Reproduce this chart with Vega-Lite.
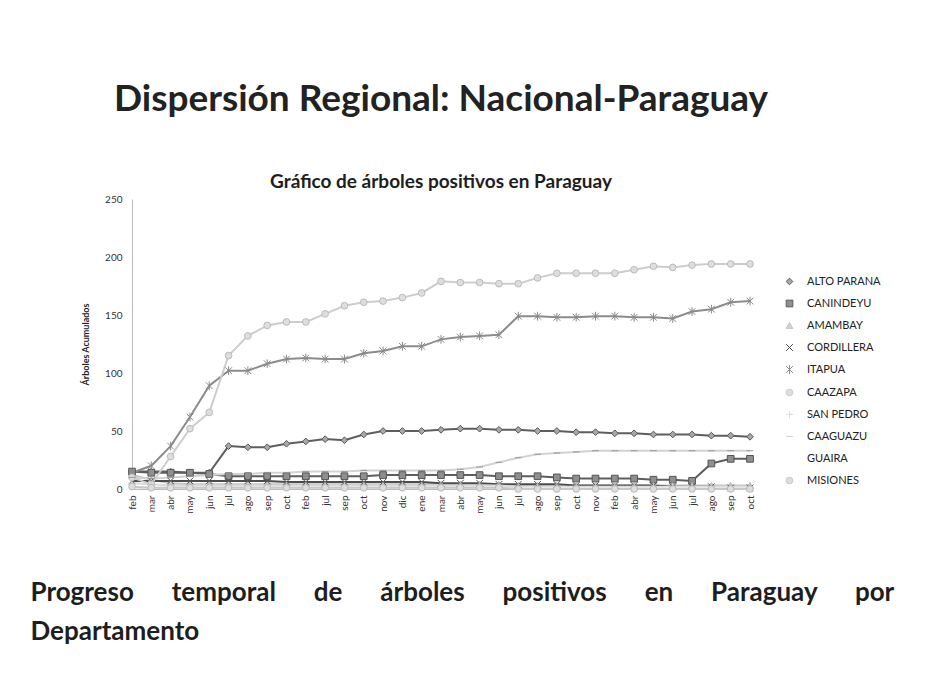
{
"$schema": "https://vega.github.io/schema/vega-lite/v6.json",
"width": 618,
"height": 290,
"padding": {"left": 30, "top": 81, "right": 10, "bottom": 5},
"background": "white",
"config": {"view": {"stroke": null}, "font": "Lato"},
"title": {
  "text": "Dispersión Regional: Nacional-Paraguay",
  "subtitle": "Gráfico de árboles positivos en Paraguay",
  "anchor": "middle", "frame": "group",
  "font": "Lato", "fontSize": 37, "fontWeight": "bold", "color": "#222222",
  "subtitleFont": "Lato", "subtitleFontSize": 19, "subtitleFontWeight": "bold", "subtitleColor": "#1e1e1e",
  "subtitlePadding": 54, "offset": 1
},
"data": {"values": [
{"d":"ALTO PARANA","t":"00-feb","v":15},{"d":"ALTO PARANA","t":"01-mar","v":15},{"d":"ALTO PARANA","t":"02-abr","v":15},{"d":"ALTO PARANA","t":"03-may","v":14},{"d":"ALTO PARANA","t":"04-jun","v":14},{"d":"ALTO PARANA","t":"05-jul","v":37},{"d":"ALTO PARANA","t":"06-ago","v":36},{"d":"ALTO PARANA","t":"07-sep","v":36},{"d":"ALTO PARANA","t":"08-oct","v":39},{"d":"ALTO PARANA","t":"09-feb","v":41},{"d":"ALTO PARANA","t":"10-jul","v":43},{"d":"ALTO PARANA","t":"11-sep","v":42},{"d":"ALTO PARANA","t":"12-oct","v":47},{"d":"ALTO PARANA","t":"13-nov","v":50},{"d":"ALTO PARANA","t":"14-dic","v":50},{"d":"ALTO PARANA","t":"15-ene","v":50},{"d":"ALTO PARANA","t":"16-mar","v":51},{"d":"ALTO PARANA","t":"17-abr","v":52},{"d":"ALTO PARANA","t":"18-may","v":52},{"d":"ALTO PARANA","t":"19-jun","v":51},{"d":"ALTO PARANA","t":"20-jul","v":51},{"d":"ALTO PARANA","t":"21-ago","v":50},{"d":"ALTO PARANA","t":"22-sep","v":50},{"d":"ALTO PARANA","t":"23-oct","v":49},{"d":"ALTO PARANA","t":"24-nov","v":49},{"d":"ALTO PARANA","t":"25-feb","v":48},{"d":"ALTO PARANA","t":"26-abr","v":48},{"d":"ALTO PARANA","t":"27-may","v":47},{"d":"ALTO PARANA","t":"28-jun","v":47},{"d":"ALTO PARANA","t":"29-jul","v":47},{"d":"ALTO PARANA","t":"30-ago","v":46},{"d":"ALTO PARANA","t":"31-sep","v":46},{"d":"ALTO PARANA","t":"32-oct","v":45},
{"d":"CANINDEYU","t":"00-feb","v":15},{"d":"CANINDEYU","t":"01-mar","v":14},{"d":"CANINDEYU","t":"02-abr","v":14},{"d":"CANINDEYU","t":"03-may","v":14},{"d":"CANINDEYU","t":"04-jun","v":13},{"d":"CANINDEYU","t":"05-jul","v":11},{"d":"CANINDEYU","t":"06-ago","v":11},{"d":"CANINDEYU","t":"07-sep","v":11},{"d":"CANINDEYU","t":"08-oct","v":11},{"d":"CANINDEYU","t":"09-feb","v":11},{"d":"CANINDEYU","t":"10-jul","v":11},{"d":"CANINDEYU","t":"11-sep","v":11},{"d":"CANINDEYU","t":"12-oct","v":11},{"d":"CANINDEYU","t":"13-nov","v":12},{"d":"CANINDEYU","t":"14-dic","v":12},{"d":"CANINDEYU","t":"15-ene","v":12},{"d":"CANINDEYU","t":"16-mar","v":12},{"d":"CANINDEYU","t":"17-abr","v":12},{"d":"CANINDEYU","t":"18-may","v":12},{"d":"CANINDEYU","t":"19-jun","v":11},{"d":"CANINDEYU","t":"20-jul","v":11},{"d":"CANINDEYU","t":"21-ago","v":11},{"d":"CANINDEYU","t":"22-sep","v":10},{"d":"CANINDEYU","t":"23-oct","v":9},{"d":"CANINDEYU","t":"24-nov","v":9},{"d":"CANINDEYU","t":"25-feb","v":9},{"d":"CANINDEYU","t":"26-abr","v":9},{"d":"CANINDEYU","t":"27-may","v":8},{"d":"CANINDEYU","t":"28-jun","v":8},{"d":"CANINDEYU","t":"29-jul","v":7},{"d":"CANINDEYU","t":"30-ago","v":22},{"d":"CANINDEYU","t":"31-sep","v":26},{"d":"CANINDEYU","t":"32-oct","v":26},
{"d":"AMAMBAY","t":"00-feb","v":12},{"d":"AMAMBAY","t":"01-mar","v":8},{"d":"AMAMBAY","t":"02-abr","v":5},{"d":"AMAMBAY","t":"03-may","v":4},{"d":"AMAMBAY","t":"04-jun","v":4},{"d":"AMAMBAY","t":"05-jul","v":4},{"d":"AMAMBAY","t":"06-ago","v":4},{"d":"AMAMBAY","t":"07-sep","v":4},{"d":"AMAMBAY","t":"08-oct","v":4},{"d":"AMAMBAY","t":"09-feb","v":4},{"d":"AMAMBAY","t":"10-jul","v":4},{"d":"AMAMBAY","t":"11-sep","v":4},{"d":"AMAMBAY","t":"12-oct","v":4},{"d":"AMAMBAY","t":"13-nov","v":4},{"d":"AMAMBAY","t":"14-dic","v":4},{"d":"AMAMBAY","t":"15-ene","v":4},{"d":"AMAMBAY","t":"16-mar","v":4},{"d":"AMAMBAY","t":"17-abr","v":4},{"d":"AMAMBAY","t":"18-may","v":4},{"d":"AMAMBAY","t":"19-jun","v":4},{"d":"AMAMBAY","t":"20-jul","v":3},{"d":"AMAMBAY","t":"21-ago","v":3},{"d":"AMAMBAY","t":"22-sep","v":3},{"d":"AMAMBAY","t":"23-oct","v":3},{"d":"AMAMBAY","t":"24-nov","v":3},{"d":"AMAMBAY","t":"25-feb","v":3},{"d":"AMAMBAY","t":"26-abr","v":3},{"d":"AMAMBAY","t":"27-may","v":3},{"d":"AMAMBAY","t":"28-jun","v":3},{"d":"AMAMBAY","t":"29-jul","v":3},{"d":"AMAMBAY","t":"30-ago","v":3},{"d":"AMAMBAY","t":"31-sep","v":3},{"d":"AMAMBAY","t":"32-oct","v":3},
{"d":"CORDILLERA","t":"00-feb","v":7},{"d":"CORDILLERA","t":"01-mar","v":7},{"d":"CORDILLERA","t":"02-abr","v":7},{"d":"CORDILLERA","t":"03-may","v":7},{"d":"CORDILLERA","t":"04-jun","v":7},{"d":"CORDILLERA","t":"05-jul","v":7},{"d":"CORDILLERA","t":"06-ago","v":7},{"d":"CORDILLERA","t":"07-sep","v":7},{"d":"CORDILLERA","t":"08-oct","v":6},{"d":"CORDILLERA","t":"09-feb","v":6},{"d":"CORDILLERA","t":"10-jul","v":6},{"d":"CORDILLERA","t":"11-sep","v":6},{"d":"CORDILLERA","t":"12-oct","v":6},{"d":"CORDILLERA","t":"13-nov","v":6},{"d":"CORDILLERA","t":"14-dic","v":6},{"d":"CORDILLERA","t":"15-ene","v":6},{"d":"CORDILLERA","t":"16-mar","v":5},{"d":"CORDILLERA","t":"17-abr","v":5},{"d":"CORDILLERA","t":"18-may","v":5},{"d":"CORDILLERA","t":"19-jun","v":4},{"d":"CORDILLERA","t":"20-jul","v":4},{"d":"CORDILLERA","t":"21-ago","v":4},{"d":"CORDILLERA","t":"22-sep","v":4},{"d":"CORDILLERA","t":"23-oct","v":3},{"d":"CORDILLERA","t":"24-nov","v":3},{"d":"CORDILLERA","t":"25-feb","v":3},{"d":"CORDILLERA","t":"26-abr","v":3},{"d":"CORDILLERA","t":"27-may","v":3},{"d":"CORDILLERA","t":"28-jun","v":2},{"d":"CORDILLERA","t":"29-jul","v":2},{"d":"CORDILLERA","t":"30-ago","v":2},{"d":"CORDILLERA","t":"31-sep","v":1},{"d":"CORDILLERA","t":"32-oct","v":1},
{"d":"ITAPUA","t":"00-feb","v":14},{"d":"ITAPUA","t":"01-mar","v":20},{"d":"ITAPUA","t":"02-abr","v":37},{"d":"ITAPUA","t":"03-may","v":62},{"d":"ITAPUA","t":"04-jun","v":89},{"d":"ITAPUA","t":"05-jul","v":102},{"d":"ITAPUA","t":"06-ago","v":102},{"d":"ITAPUA","t":"07-sep","v":108},{"d":"ITAPUA","t":"08-oct","v":112},{"d":"ITAPUA","t":"09-feb","v":113},{"d":"ITAPUA","t":"10-jul","v":112},{"d":"ITAPUA","t":"11-sep","v":112},{"d":"ITAPUA","t":"12-oct","v":117},{"d":"ITAPUA","t":"13-nov","v":119},{"d":"ITAPUA","t":"14-dic","v":123},{"d":"ITAPUA","t":"15-ene","v":123},{"d":"ITAPUA","t":"16-mar","v":129},{"d":"ITAPUA","t":"17-abr","v":131},{"d":"ITAPUA","t":"18-may","v":132},{"d":"ITAPUA","t":"19-jun","v":133},{"d":"ITAPUA","t":"20-jul","v":149},{"d":"ITAPUA","t":"21-ago","v":149},{"d":"ITAPUA","t":"22-sep","v":148},{"d":"ITAPUA","t":"23-oct","v":148},{"d":"ITAPUA","t":"24-nov","v":149},{"d":"ITAPUA","t":"25-feb","v":149},{"d":"ITAPUA","t":"26-abr","v":148},{"d":"ITAPUA","t":"27-may","v":148},{"d":"ITAPUA","t":"28-jun","v":147},{"d":"ITAPUA","t":"29-jul","v":153},{"d":"ITAPUA","t":"30-ago","v":155},{"d":"ITAPUA","t":"31-sep","v":161},{"d":"ITAPUA","t":"32-oct","v":162},
{"d":"CAAZAPA","t":"00-feb","v":10},{"d":"CAAZAPA","t":"01-mar","v":4},{"d":"CAAZAPA","t":"02-abr","v":28},{"d":"CAAZAPA","t":"03-may","v":52},{"d":"CAAZAPA","t":"04-jun","v":66},{"d":"CAAZAPA","t":"05-jul","v":115},{"d":"CAAZAPA","t":"06-ago","v":132},{"d":"CAAZAPA","t":"07-sep","v":141},{"d":"CAAZAPA","t":"08-oct","v":144},{"d":"CAAZAPA","t":"09-feb","v":144},{"d":"CAAZAPA","t":"10-jul","v":151},{"d":"CAAZAPA","t":"11-sep","v":158},{"d":"CAAZAPA","t":"12-oct","v":161},{"d":"CAAZAPA","t":"13-nov","v":162},{"d":"CAAZAPA","t":"14-dic","v":165},{"d":"CAAZAPA","t":"15-ene","v":169},{"d":"CAAZAPA","t":"16-mar","v":179},{"d":"CAAZAPA","t":"17-abr","v":178},{"d":"CAAZAPA","t":"18-may","v":178},{"d":"CAAZAPA","t":"19-jun","v":177},{"d":"CAAZAPA","t":"20-jul","v":177},{"d":"CAAZAPA","t":"21-ago","v":182},{"d":"CAAZAPA","t":"22-sep","v":186},{"d":"CAAZAPA","t":"23-oct","v":186},{"d":"CAAZAPA","t":"24-nov","v":186},{"d":"CAAZAPA","t":"25-feb","v":186},{"d":"CAAZAPA","t":"26-abr","v":189},{"d":"CAAZAPA","t":"27-may","v":192},{"d":"CAAZAPA","t":"28-jun","v":191},{"d":"CAAZAPA","t":"29-jul","v":193},{"d":"CAAZAPA","t":"30-ago","v":194},{"d":"CAAZAPA","t":"31-sep","v":194},{"d":"CAAZAPA","t":"32-oct","v":194},
{"d":"SAN PEDRO","t":"00-feb","v":5},{"d":"SAN PEDRO","t":"01-mar","v":4},{"d":"SAN PEDRO","t":"02-abr","v":3},{"d":"SAN PEDRO","t":"03-may","v":3},{"d":"SAN PEDRO","t":"04-jun","v":3},{"d":"SAN PEDRO","t":"05-jul","v":3},{"d":"SAN PEDRO","t":"06-ago","v":3},{"d":"SAN PEDRO","t":"07-sep","v":3},{"d":"SAN PEDRO","t":"08-oct","v":3},{"d":"SAN PEDRO","t":"09-feb","v":3},{"d":"SAN PEDRO","t":"10-jul","v":3},{"d":"SAN PEDRO","t":"11-sep","v":3},{"d":"SAN PEDRO","t":"12-oct","v":3},{"d":"SAN PEDRO","t":"13-nov","v":3},{"d":"SAN PEDRO","t":"14-dic","v":3},{"d":"SAN PEDRO","t":"15-ene","v":3},{"d":"SAN PEDRO","t":"16-mar","v":3},{"d":"SAN PEDRO","t":"17-abr","v":3},{"d":"SAN PEDRO","t":"18-may","v":3},{"d":"SAN PEDRO","t":"19-jun","v":3},{"d":"SAN PEDRO","t":"20-jul","v":2},{"d":"SAN PEDRO","t":"21-ago","v":2},{"d":"SAN PEDRO","t":"22-sep","v":2},{"d":"SAN PEDRO","t":"23-oct","v":2},{"d":"SAN PEDRO","t":"24-nov","v":2},{"d":"SAN PEDRO","t":"25-feb","v":2},{"d":"SAN PEDRO","t":"26-abr","v":2},{"d":"SAN PEDRO","t":"27-may","v":2},{"d":"SAN PEDRO","t":"28-jun","v":2},{"d":"SAN PEDRO","t":"29-jul","v":2},{"d":"SAN PEDRO","t":"30-ago","v":2},{"d":"SAN PEDRO","t":"31-sep","v":2},{"d":"SAN PEDRO","t":"32-oct","v":2},
{"d":"CAAGUAZU","t":"00-feb","v":10},{"d":"CAAGUAZU","t":"01-mar","v":9},{"d":"CAAGUAZU","t":"02-abr","v":10},{"d":"CAAGUAZU","t":"03-may","v":11},{"d":"CAAGUAZU","t":"04-jun","v":12},{"d":"CAAGUAZU","t":"05-jul","v":13},{"d":"CAAGUAZU","t":"06-ago","v":13},{"d":"CAAGUAZU","t":"07-sep","v":14},{"d":"CAAGUAZU","t":"08-oct","v":14},{"d":"CAAGUAZU","t":"09-feb","v":15},{"d":"CAAGUAZU","t":"10-jul","v":15},{"d":"CAAGUAZU","t":"11-sep","v":15},{"d":"CAAGUAZU","t":"12-oct","v":16},{"d":"CAAGUAZU","t":"13-nov","v":16},{"d":"CAAGUAZU","t":"14-dic","v":16},{"d":"CAAGUAZU","t":"15-ene","v":16},{"d":"CAAGUAZU","t":"16-mar","v":16},{"d":"CAAGUAZU","t":"17-abr","v":17},{"d":"CAAGUAZU","t":"18-may","v":19},{"d":"CAAGUAZU","t":"19-jun","v":23},{"d":"CAAGUAZU","t":"20-jul","v":27},{"d":"CAAGUAZU","t":"21-ago","v":30},{"d":"CAAGUAZU","t":"22-sep","v":31},{"d":"CAAGUAZU","t":"23-oct","v":32},{"d":"CAAGUAZU","t":"24-nov","v":33},{"d":"CAAGUAZU","t":"25-feb","v":33},{"d":"CAAGUAZU","t":"26-abr","v":33},{"d":"CAAGUAZU","t":"27-may","v":33},{"d":"CAAGUAZU","t":"28-jun","v":33},{"d":"CAAGUAZU","t":"29-jul","v":33},{"d":"CAAGUAZU","t":"30-ago","v":33},{"d":"CAAGUAZU","t":"31-sep","v":33},{"d":"CAAGUAZU","t":"32-oct","v":33},
{"d":"GUAIRA","t":"00-feb","v":1},{"d":"GUAIRA","t":"01-mar","v":1},{"d":"GUAIRA","t":"02-abr","v":1},{"d":"GUAIRA","t":"03-may","v":1},{"d":"GUAIRA","t":"04-jun","v":1},{"d":"GUAIRA","t":"05-jul","v":1},{"d":"GUAIRA","t":"06-ago","v":1},{"d":"GUAIRA","t":"07-sep","v":1},{"d":"GUAIRA","t":"08-oct","v":1},{"d":"GUAIRA","t":"09-feb","v":1},{"d":"GUAIRA","t":"10-jul","v":1},{"d":"GUAIRA","t":"11-sep","v":1},{"d":"GUAIRA","t":"12-oct","v":1},{"d":"GUAIRA","t":"13-nov","v":1},{"d":"GUAIRA","t":"14-dic","v":1},{"d":"GUAIRA","t":"15-ene","v":1},{"d":"GUAIRA","t":"16-mar","v":1},{"d":"GUAIRA","t":"17-abr","v":1},{"d":"GUAIRA","t":"18-may","v":1},{"d":"GUAIRA","t":"19-jun","v":1},{"d":"GUAIRA","t":"20-jul","v":1},{"d":"GUAIRA","t":"21-ago","v":1},{"d":"GUAIRA","t":"22-sep","v":1},{"d":"GUAIRA","t":"23-oct","v":1},{"d":"GUAIRA","t":"24-nov","v":1},{"d":"GUAIRA","t":"25-feb","v":1},{"d":"GUAIRA","t":"26-abr","v":1},{"d":"GUAIRA","t":"27-may","v":1},{"d":"GUAIRA","t":"28-jun","v":1},{"d":"GUAIRA","t":"29-jul","v":1},{"d":"GUAIRA","t":"30-ago","v":1},{"d":"GUAIRA","t":"31-sep","v":1},{"d":"GUAIRA","t":"32-oct","v":1},
{"d":"MISIONES","t":"00-feb","v":2},{"d":"MISIONES","t":"01-mar","v":1},{"d":"MISIONES","t":"02-abr","v":1},{"d":"MISIONES","t":"03-may","v":1},{"d":"MISIONES","t":"04-jun","v":1},{"d":"MISIONES","t":"05-jul","v":1},{"d":"MISIONES","t":"06-ago","v":1},{"d":"MISIONES","t":"07-sep","v":1},{"d":"MISIONES","t":"08-oct","v":1},{"d":"MISIONES","t":"09-feb","v":1},{"d":"MISIONES","t":"10-jul","v":1},{"d":"MISIONES","t":"11-sep","v":1},{"d":"MISIONES","t":"12-oct","v":1},{"d":"MISIONES","t":"13-nov","v":1},{"d":"MISIONES","t":"14-dic","v":1},{"d":"MISIONES","t":"15-ene","v":1},{"d":"MISIONES","t":"16-mar","v":1},{"d":"MISIONES","t":"17-abr","v":1},{"d":"MISIONES","t":"18-may","v":1},{"d":"MISIONES","t":"19-jun","v":1},{"d":"MISIONES","t":"20-jul","v":0},{"d":"MISIONES","t":"21-ago","v":0},{"d":"MISIONES","t":"22-sep","v":0},{"d":"MISIONES","t":"23-oct","v":0},{"d":"MISIONES","t":"24-nov","v":0},{"d":"MISIONES","t":"25-feb","v":0},{"d":"MISIONES","t":"26-abr","v":0},{"d":"MISIONES","t":"27-may","v":0},{"d":"MISIONES","t":"28-jun","v":0},{"d":"MISIONES","t":"29-jul","v":0},{"d":"MISIONES","t":"30-ago","v":0},{"d":"MISIONES","t":"31-sep","v":0},{"d":"MISIONES","t":"32-oct","v":0}
]},
"encoding": {
  "x": {"field": "t", "type": "ordinal", "scale": {"type": "point", "padding": 0},
    "axis": {"labelAngle": -90, "labelExpr": "substring(datum.label, 3)", "labelFont": "Lato", "labelFontSize": 10, "labelColor": "#333333", "labelPadding": 6, "ticks": false, "domainColor": "#bbbbbb",
      "title": ["Progreso\u00a0\u00a0\u00a0\u00a0\u00a0 temporal\u00a0\u00a0\u00a0\u00a0\u00a0 de\u00a0\u00a0\u00a0\u00a0\u00a0 árboles\u00a0\u00a0\u00a0\u00a0\u00a0 positivos\u00a0\u00a0\u00a0\u00a0\u00a0 en\u00a0\u00a0\u00a0\u00a0\u00a0 Paraguay\u00a0\u00a0\u00a0\u00a0\u00a0 por", "Departamento"],
      "titleFont": "Lato", "titleFontSize": 26, "titleFontWeight": "bold", "titleColor": "#1e1e1e",
      "titleAnchor": "start", "titleAlign": "left", "titleBaseline": "alphabetic", "titleX": -102, "titleY": 111, "titleLineHeight": 39}},
  "y": {"field": "v", "type": "quantitative", "scale": {"domain": [0, 250]},
    "axis": {"values": [0, 50, 100, 150, 200, 250], "grid": false, "ticks": false, "domainColor": "#bbbbbb", "labelFont": "Lato", "labelFontSize": 10, "labelColor": "#333333", "labelPadding": 10,
      "title": "Árboles Acumulados", "titleFont": "Lato", "titleFontSize": 9, "titleFontWeight": "bold", "titleColor": "#222222", "titlePadding": 14}}
},
"layer": [
  {"mark": {"type": "line", "strokeWidth": 2},
   "encoding": {"color": {"field": "d", "type": "nominal",
     "legend": {"orient": "none", "legendX": 652, "legendY": 77, "title": null, "labelFont": "Lato", "labelFontSize": 11, "labelColor": "#222222", "rowPadding": 10, "labelOffset": 12, "symbolStrokeWidth": 1, "symbolSize": 45},
     "scale": {"domain": ["ALTO PARANA","CANINDEYU","AMAMBAY","CORDILLERA","ITAPUA","CAAZAPA","SAN PEDRO","CAAGUAZU","GUAIRA","MISIONES"],
               "range": ["#5e5e5e","#5e5e5e","#c4c4c4","#4c4c4c","#8c8c8c","#cdcdcd","#dadada","#d2d2d2","#e6e6e6","#c8c8c8"]}}}},
  {"mark": {"type": "point", "size": 45, "strokeWidth": 1, "opacity": 1},
   "encoding": {
     "shape": {"field": "d", "type": "nominal", "legend": null,
       "scale": {"domain": ["ALTO PARANA","CANINDEYU","AMAMBAY","CORDILLERA","ITAPUA","CAAZAPA","SAN PEDRO","CAAGUAZU","GUAIRA","MISIONES"],
                 "range": ["diamond","square","triangle-up","M-1,-1L1,1M-1,1L1,-1","M-1,-1L1,1M-1,1L1,-1M0,-1.3L0,1.3","circle","M-1,0L1,0M0,-1L0,1","M-1,0L1,0","M0,0L0,0","circle"]}},
     "stroke": {"field": "d", "type": "nominal", "legend": null,
       "scale": {"domain": ["ALTO PARANA","CANINDEYU","AMAMBAY","CORDILLERA","ITAPUA","CAAZAPA","SAN PEDRO","CAAGUAZU","GUAIRA","MISIONES"],
                 "range": ["#555555","#555555","#aaaaaa","#555555","#888888","#bbbbbb","#cccccc","#999999","#dddddd","#bbbbbb"]}},
     "fill": {"field": "d", "type": "nominal", "legend": null,
       "scale": {"domain": ["ALTO PARANA","CANINDEYU","AMAMBAY","CORDILLERA","ITAPUA","CAAZAPA","SAN PEDRO","CAAGUAZU","GUAIRA","MISIONES"],
                 "range": ["#a8a8a8","#8f8f8f","#d0d0d0","#555555","#888888","#dedede","#cccccc","#999999","#dddddd","#dddddd"]}}
   }}
]
}
